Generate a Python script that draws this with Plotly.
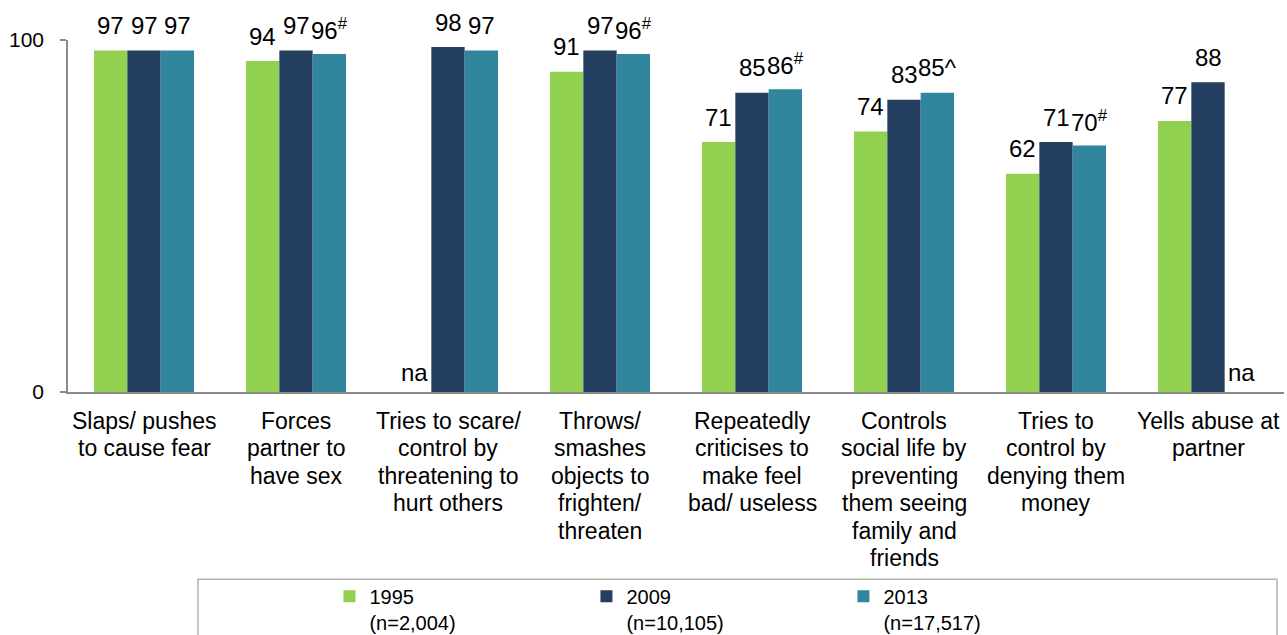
import plotly.graph_objects as go

# Survey items (x-axis categories), one entry per group of bars
categories = [
    "Slaps/ pushes<br>to cause fear",
    "Forces<br>partner to<br>have sex",
    "Tries to scare/<br>control by<br>threatening to<br>hurt others",
    "Throws/<br>smashes<br>objects to<br>frighten/<br>threaten",
    "Repeatedly<br>criticises to<br>make feel<br>bad/ useless",
    "Controls<br>social life by<br>preventing<br>them seeing<br>family and<br>friends",
    "Tries to<br>control by<br>denying them<br>money",
    "Yells abuse at<br>partner",
]

# Percentages per survey wave (None = item not asked)
pct_1995 = [97, 94, None, 91, 71, 74, 62, 77]
pct_2009 = [97, 97, 98, 97, 85, 83, 71, 88]
pct_2013 = [97, 96, 97, 96, 86, 85, 70, None]

# Significance markers attached to the 2013 labels
marks_2013 = ["", "#", "", "#", "#", "^", "#", ""]

series_names = ["1995<br>(n=2,004)", "2009<br>(n=10,105)", "2013<br>(n=17,517)"]
series_colors = ["#92D050", "#243F60", "#31859C"]
y_ticks = [0, 100]

FONT = "Liberation Sans, Arial, sans-serif"
BARGAP = 0.342
AXIS_GREY = "#8a8a8a"

series = [pct_1995, pct_2009, pct_2013]
marks = [[""] * len(categories), [""] * len(categories), marks_2013]
x_idx = list(range(len(categories)))

fig = go.Figure()
for name, vals, color in zip(series_names, series, series_colors):
    fig.add_trace(go.Bar(
        x=x_idx,
        y=[v if v is not None else 0 for v in vals],
        name=name,
        marker=dict(color=color, line=dict(width=0)),
        hoverinfo="skip",
    ))

annotations = []
bar_w = (1 - BARGAP) / len(series)
for j, (vals, mk) in enumerate(zip(series, marks)):
    for i, v in enumerate(vals):
        xpos = i + (j - 1) * bar_w
        if v is None:
            annotations.append(dict(
                x=xpos, y=0, xref="x", yref="y", text="na", showarrow=False,
                yanchor="middle", yshift=20,
                font=dict(family=FONT, size=24, color="#000000"),
            ))
        else:
            m = mk[i]
            suffix = f"<sup>{m}</sup>" if m == "#" else m
            annotations.append(dict(
                x=xpos, y=v, xref="x", yref="y", text=f"{v}{suffix}",
                showarrow=False, yanchor="middle", yshift=25,
                font=dict(family=FONT, size=24, color="#000000"),
            ))

# Category labels, one annotation per text line for tight line spacing
for i, cat in enumerate(categories):
    for k, line in enumerate(cat.split("<br>")):
        annotations.append(dict(
            x=i, y=0, xref="x", yref="y", text=line, showarrow=False,
            yanchor="middle", xanchor="center", yshift=-(28.5 + 27.5 * k),
            font=dict(family=FONT, size=23, color="#000000"),
        ))

fig.update_layout(
    width=1287,
    height=635,
    paper_bgcolor="white",
    plot_bgcolor="white",
    barmode="group",
    bargap=BARGAP,
    bargroupgap=0,
    margin=dict(l=68, r=3, t=40, b=243, autoexpand=False),
    font=dict(family=FONT, color="#000000"),
    annotations=annotations,
    showlegend=True,
    legend=dict(
        orientation="h",
        x=0.215, xanchor="left",
        y=-0.525, yanchor="top",
        valign="top",
        entrywidth=212, entrywidthmode="pixels",
        font=dict(family=FONT, size=20, color="#000000"),
        bgcolor="rgba(0,0,0,0)",
        borderwidth=0,
        traceorder="normal",
    ),
    shapes=[dict(
        type="rect", xref="paper", yref="paper",
        x0=(198 - 68) / 1216, x1=(1277 - 68) / 1216,
        y0=-0.72, y1=-0.532,
        line=dict(color="#b3b3b3", width=1.5),
        fillcolor="rgba(0,0,0,0)",
        layer="below",
    )],
    xaxis=dict(
        range=[-0.5, len(categories) - 0.5],
        showticklabels=False,
        ticks="",
        showgrid=False,
        zeroline=False,
        showline=True,
        linecolor=AXIS_GREY,
        linewidth=2,
    ),
    yaxis=dict(
        range=[0, 100],
        tickvals=y_ticks,
        ticktext=[str(t) for t in y_ticks],
        ticks="outside",
        ticklen=6,
        tickwidth=1.5,
        tickcolor=AXIS_GREY,
        showgrid=False,
        zeroline=False,
        showline=True,
        linecolor=AXIS_GREY,
        linewidth=1.5,
        ticklabelstandoff=12,
        tickfont=dict(family=FONT, size=21, color="#000000"),
    ),
)

fig.write_html("out.html")
